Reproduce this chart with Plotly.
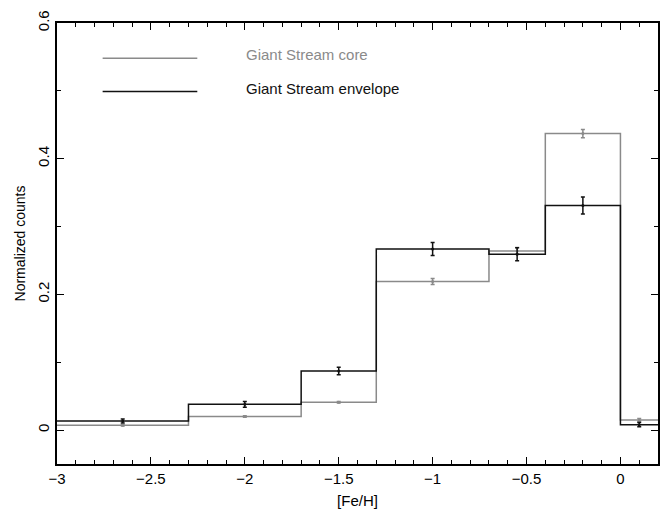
import plotly.graph_objects as go

# Histogram bin edges ([Fe/H])
bin_edges = [-3.0, -2.3, -1.7, -1.3, -0.7, -0.4, 0.0, 0.2]
# Error bar positions (bin centers as plotted)
err_x = [-2.65, -2.0, -1.5, -1.0, -0.55, -0.2, 0.1]

core_vals = [0.007, 0.020, 0.041, 0.219, 0.264, 0.437, 0.015]
core_err = [0.001, 0.001, 0.001, 0.0043, 0.005, 0.006, 0.002]

env_vals = [0.0135, 0.038, 0.087, 0.267, 0.259, 0.331, 0.008]
env_err = [0.003, 0.0043, 0.0055, 0.0096, 0.0096, 0.0125, 0.003]

legend_names = ["Giant Stream core", "Giant Stream envelope"]
GRAY = "#8a8a8a"
BLACK = "#111111"
FONT = "Liberation Sans"

fig = go.Figure()

for vals, errs, color in [(core_vals, core_err, GRAY), (env_vals, env_err, BLACK)]:
    fig.add_trace(go.Scatter(
        x=bin_edges, y=vals + [vals[-1]], mode="lines",
        line=dict(shape="hv", color=color, width=1.5),
        showlegend=False, hoverinfo="skip"))
    fig.add_trace(go.Scatter(
        x=err_x, y=vals, mode="markers",
        marker=dict(size=3, color=color),
        error_y=dict(type="data", array=errs, visible=True, color=color,
                     thickness=1.5, width=2),
        showlegend=False))

# Legend drawn inside the plot
leg_line_y = [0.548, 0.499]
leg_text_y = [0.554, 0.504]
for name, color, ly, ty in zip(legend_names, [GRAY, BLACK], leg_line_y, leg_text_y):
    fig.add_shape(type="line", x0=-2.757, x1=-2.253, y0=ly, y1=ly,
                  xref="x", yref="y", line=dict(color=color, width=1.5))
    fig.add_annotation(x=-2.003, y=ty, text=name, showarrow=False,
                       xanchor="left", yanchor="middle",
                       font=dict(color=color, size=15, family=FONT))

axis_common = dict(
    showgrid=False, zeroline=False, showline=True, linecolor="black",
    linewidth=1.5, mirror="allticks", ticks="inside", tickcolor="black",
    tickwidth=1.2, ticklen=7,
    tickfont=dict(size=15, color="black", family=FONT),
)

fig.update_xaxes(
    range=[-3, 0.2], tickmode="linear", tick0=-3, dtick=0.5,
    minor=dict(ticks="inside", dtick=0.1, tick0=-3, ticklen=4,
               tickcolor="black", tickwidth=1),
    title=dict(text="[Fe/H]", font=dict(size=15, color="black", family=FONT),
               standoff=10),
    **axis_common)
fig.update_yaxes(
    range=[-0.05, 0.6], tickmode="array", tickvals=[0, 0.2, 0.4, 0.6],
    ticktext=["0", "0.2", "0.4", "0.6"], tickangle=-90,
    minor=dict(ticks="inside", tickvals=[0.1, 0.3, 0.5], ticklen=4,
               tickcolor="black", tickwidth=1),
    title=dict(text="Normalized counts", font=dict(size=14, color="black",
                                                   family=FONT), standoff=6),
    **axis_common)

fig.update_layout(
    width=670, height=517,
    margin=dict(l=57, r=10, t=14, b=53),
    plot_bgcolor="white", paper_bgcolor="white",
    font=dict(family=FONT, color="black"),
)

fig.write_html("out.html")
